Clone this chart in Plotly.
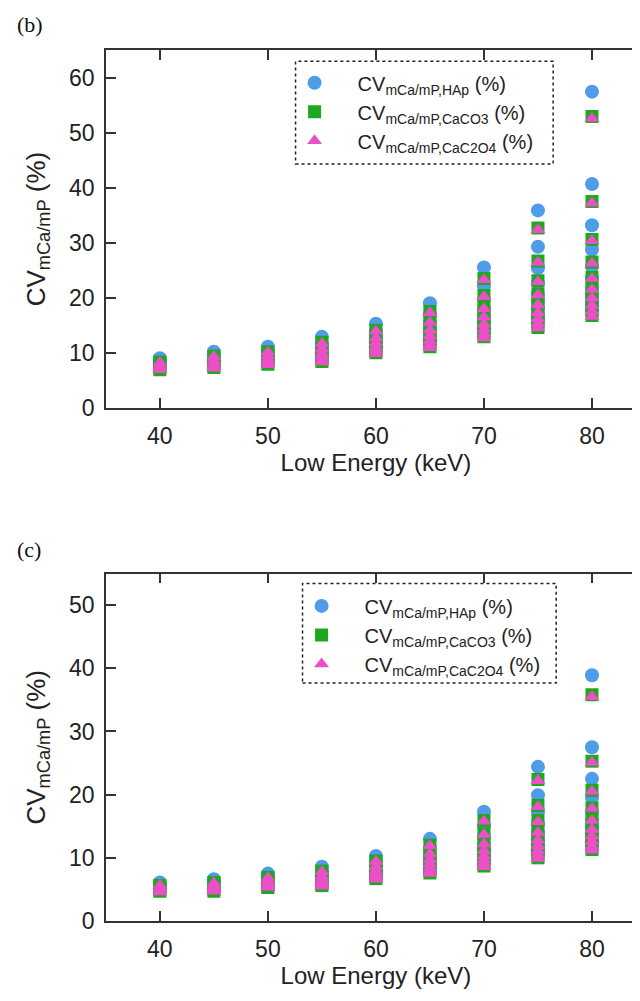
import plotly.graph_objects as go

energies = [40, 45, 50, 55, 60, 65, 70, 75, 80]

# Panel (b) values, one list per energy
b_hap = [
    [9.0, 8.4, 7.9, 7.5],
    [10.2, 9.4, 8.8, 8.3, 7.9],
    [11.1, 10.3, 9.6, 9.1, 8.6],
    [12.9, 11.8, 10.9, 10.2, 9.6, 9.1],
    [15.3, 14.0, 12.9, 12.1, 11.4, 10.8],
    [19.0, 17.0, 15.5, 14.4, 13.4, 12.7, 12.0],
    [25.5, 22.1, 19.8, 18.0, 16.7, 15.6, 14.7, 14.0],
    [35.9, 29.3, 25.4, 22.7, 20.7, 19.2, 18.0, 16.9, 16.1],
    [57.5, 40.7, 33.2, 28.8, 25.7, 23.5, 21.7, 20.3, 19.2, 18.2],
]
b_caco3 = [
    [8.3, 7.7, 7.3, 6.9],
    [9.4, 8.7, 8.1, 7.7, 7.3],
    [10.2, 9.4, 8.8, 8.3, 7.9],
    [11.9, 10.8, 10.0, 9.4, 8.8, 8.4],
    [14.1, 12.9, 11.9, 11.1, 10.5, 10.0],
    [17.5, 15.7, 14.3, 13.2, 12.4, 11.7, 11.1],
    [23.5, 20.4, 18.2, 16.6, 15.4, 14.4, 13.6, 12.9],
    [32.7, 26.7, 23.1, 20.7, 18.9, 17.5, 16.3, 15.4, 14.6],
    [53.0, 37.5, 30.6, 26.5, 23.7, 21.6, 20.0, 18.7, 17.7, 16.8],
]
b_cac2o4 = [
    [8.2, 7.7, 7.2, 6.9],
    [9.3, 8.6, 8.1, 7.6, 7.2],
    [10.1, 9.4, 8.8, 8.3, 7.8],
    [11.7, 10.7, 9.9, 9.3, 8.7, 8.3],
    [13.9, 12.7, 11.8, 11.0, 10.4, 9.8],
    [17.3, 15.5, 14.1, 13.1, 12.2, 11.5, 10.9],
    [23.3, 20.2, 18.0, 16.5, 15.2, 14.3, 13.4, 12.7],
    [32.4, 26.4, 22.9, 20.5, 18.7, 17.3, 16.2, 15.3, 14.5],
    [52.6, 37.2, 30.4, 26.3, 23.5, 21.5, 19.9, 18.6, 17.5, 16.6],
]

# Panel (c) values
c_hap = [
    [6.1, 5.7, 5.4, 5.1],
    [6.6, 6.1, 5.7, 5.4, 5.1],
    [7.5, 7.0, 6.5, 6.1, 5.8],
    [8.6, 7.8, 7.3, 6.8, 6.4, 6.1],
    [10.3, 9.4, 8.7, 8.1, 7.7, 7.3],
    [13.0, 11.6, 10.6, 9.8, 9.2, 8.7, 8.2],
    [17.3, 15.0, 13.4, 12.2, 11.3, 10.6, 10.0, 9.5],
    [24.4, 19.9, 17.3, 15.4, 14.1, 13.0, 12.2, 11.5, 10.9],
    [38.9, 27.5, 22.5, 19.5, 17.4, 15.9, 14.7, 13.8, 13.0, 12.3],
]
c_caco3 = [
    [5.6, 5.2, 4.9, 4.7],
    [6.1, 5.6, 5.3, 5.0, 4.7],
    [6.9, 6.4, 6.0, 5.6, 5.3],
    [7.9, 7.2, 6.7, 6.3, 5.9, 5.6],
    [9.5, 8.7, 8.0, 7.5, 7.1, 6.7],
    [12.0, 10.7, 9.8, 9.0, 8.5, 8.0, 7.6],
    [15.9, 13.8, 12.3, 11.3, 10.4, 9.8, 9.2, 8.7],
    [22.4, 18.3, 15.9, 14.2, 12.9, 12.0, 11.2, 10.6, 10.0],
    [35.8, 25.3, 20.7, 17.9, 16.0, 14.6, 13.5, 12.7, 11.9, 11.3],
]
c_cac2o4 = [
    [5.6, 5.2, 4.9, 4.6],
    [6.0, 5.6, 5.2, 4.9, 4.7],
    [6.8, 6.3, 5.9, 5.6, 5.3],
    [7.8, 7.1, 6.6, 6.2, 5.8, 5.5],
    [9.4, 8.6, 7.9, 7.4, 7.0, 6.6],
    [11.9, 10.6, 9.7, 9.0, 8.4, 7.9, 7.5],
    [15.8, 13.7, 12.2, 11.1, 10.3, 9.7, 9.1, 8.6],
    [22.2, 18.1, 15.7, 14.0, 12.8, 11.9, 11.1, 10.5, 9.9],
    [35.5, 25.1, 20.5, 17.8, 15.9, 14.5, 13.4, 12.6, 11.8, 11.2],
]

series_names = [
    "CV<sub>mCa/mP,HAp</sub> (%)",
    "CV<sub>mCa/mP,CaCO3</sub> (%)",
    "CV<sub>mCa/mP,CaC2O4</sub> (%)",
]
series_colors = ["#4f9de8", "#1fa81f", "#ec4fc8"]
series_symbols = ["circle", "square", "triangle-up"]
series_sizes = [14, 13, 13]

x_tick_vals = [40, 50, 60, 70, 80]
b_y_ticks = [0, 10, 20, 30, 40, 50, 60]
c_y_ticks = [0, 10, 20, 30, 40, 50]


def flatten(groups):
    xs, ys = [], []
    for e, vals in zip(energies, groups):
        for v in vals:
            xs.append(e)
            ys.append(v)
    return xs, ys


fig = go.Figure()
panels = [
    ("x", "y", "legend", [b_hap, b_caco3, b_cac2o4]),
    ("x2", "y2", "legend2", [c_hap, c_caco3, c_cac2o4]),
]
for xa, ya, lg, data in panels:
    for i, groups in enumerate(data):
        xs, ys = flatten(groups)
        fig.add_trace(go.Scatter(
            x=xs, y=ys, mode="markers", name=series_names[i],
            xaxis=xa, yaxis=ya, legend=lg,
            marker=dict(symbol=series_symbols[i], size=series_sizes[i],
                        color=series_colors[i], line=dict(width=0)),
        ))

W, H = 640, 1001
FONT = "Liberation Sans, Arial"
axis_common = dict(
    showline=True, linecolor="#333333", linewidth=1.5, mirror="ticks",
    ticks="inside", ticklen=10, tickwidth=1.5, tickcolor="#333333",
    showgrid=False, zeroline=False,
    tickfont=dict(family=FONT, size=23, color="#222222"),
)
title_font = dict(family=FONT, size=24, color="#222222")
ytitle_font = dict(family=FONT, size=26, color="#222222")
xr = [35, 85]
xdom = [98 / W, 639 / W]


def py(p):
    return 1 - p / H


fig.update_layout(
    width=W, height=H,
    margin=dict(l=0, r=0, t=0, b=0),
    plot_bgcolor="white", paper_bgcolor="white",
    showlegend=True,
    xaxis=dict(axis_common, domain=xdom, range=xr, anchor="y",
               tickvals=x_tick_vals, ticklabelstandoff=7,
               title=dict(text="Low Energy (keV)", standoff=6, font=title_font)),
    yaxis=dict(axis_common, domain=[py(405), py(43)], range=[0, 65], anchor="x",
               tickvals=b_y_ticks, ticklabelstandoff=5,
               title=dict(text="CV<sub>mCa/mP</sub> (%)", standoff=16, font=ytitle_font)),
    xaxis2=dict(axis_common, domain=xdom, range=xr, anchor="y2",
                tickvals=x_tick_vals, ticklabelstandoff=7,
                title=dict(text="Low Energy (keV)", standoff=6, font=title_font)),
    yaxis2=dict(axis_common, domain=[py(925), py(573)], range=[0, 55], anchor="x2",
                tickvals=c_y_ticks, ticklabelstandoff=5,
                title=dict(text="CV<sub>mCa/mP</sub> (%)", standoff=16, font=ytitle_font)),
    legend=dict(x=264 / W, y=py(56), xanchor="left", yanchor="top",
                bgcolor="rgba(0,0,0,0)", borderwidth=0, itemwidth=76,
                font=dict(family=FONT, size=20, color="#222222")),
    legend2=dict(x=271 / W, y=py(586), xanchor="left", yanchor="top",
                 bgcolor="rgba(0,0,0,0)", borderwidth=0, itemwidth=76,
                 font=dict(family=FONT, size=20, color="#222222")),
    shapes=[
        dict(type="rect", xref="paper", yref="paper",
             x0=288 / W, x1=546 / W, y0=py(158), y1=py(54),
             line=dict(color="#222222", width=1.5, dash="dot")),
        dict(type="rect", xref="paper", yref="paper",
             x0=295 / W, x1=549 / W, y0=py(684), y1=py(583),
             line=dict(color="#222222", width=1.5, dash="dot")),
    ],
    annotations=[
        dict(text="(b)", xref="paper", yref="paper", x=7 / W, y=py(17),
             xanchor="left", yanchor="middle", showarrow=False,
             font=dict(family="Liberation Serif, Times New Roman", size=22, color="#111111")),
        dict(text="(c)", xref="paper", yref="paper", x=7 / W, y=py(549),
             xanchor="left", yanchor="middle", showarrow=False,
             font=dict(family="Liberation Serif, Times New Roman", size=22, color="#111111")),
    ],
)

fig.write_html("out.html")
